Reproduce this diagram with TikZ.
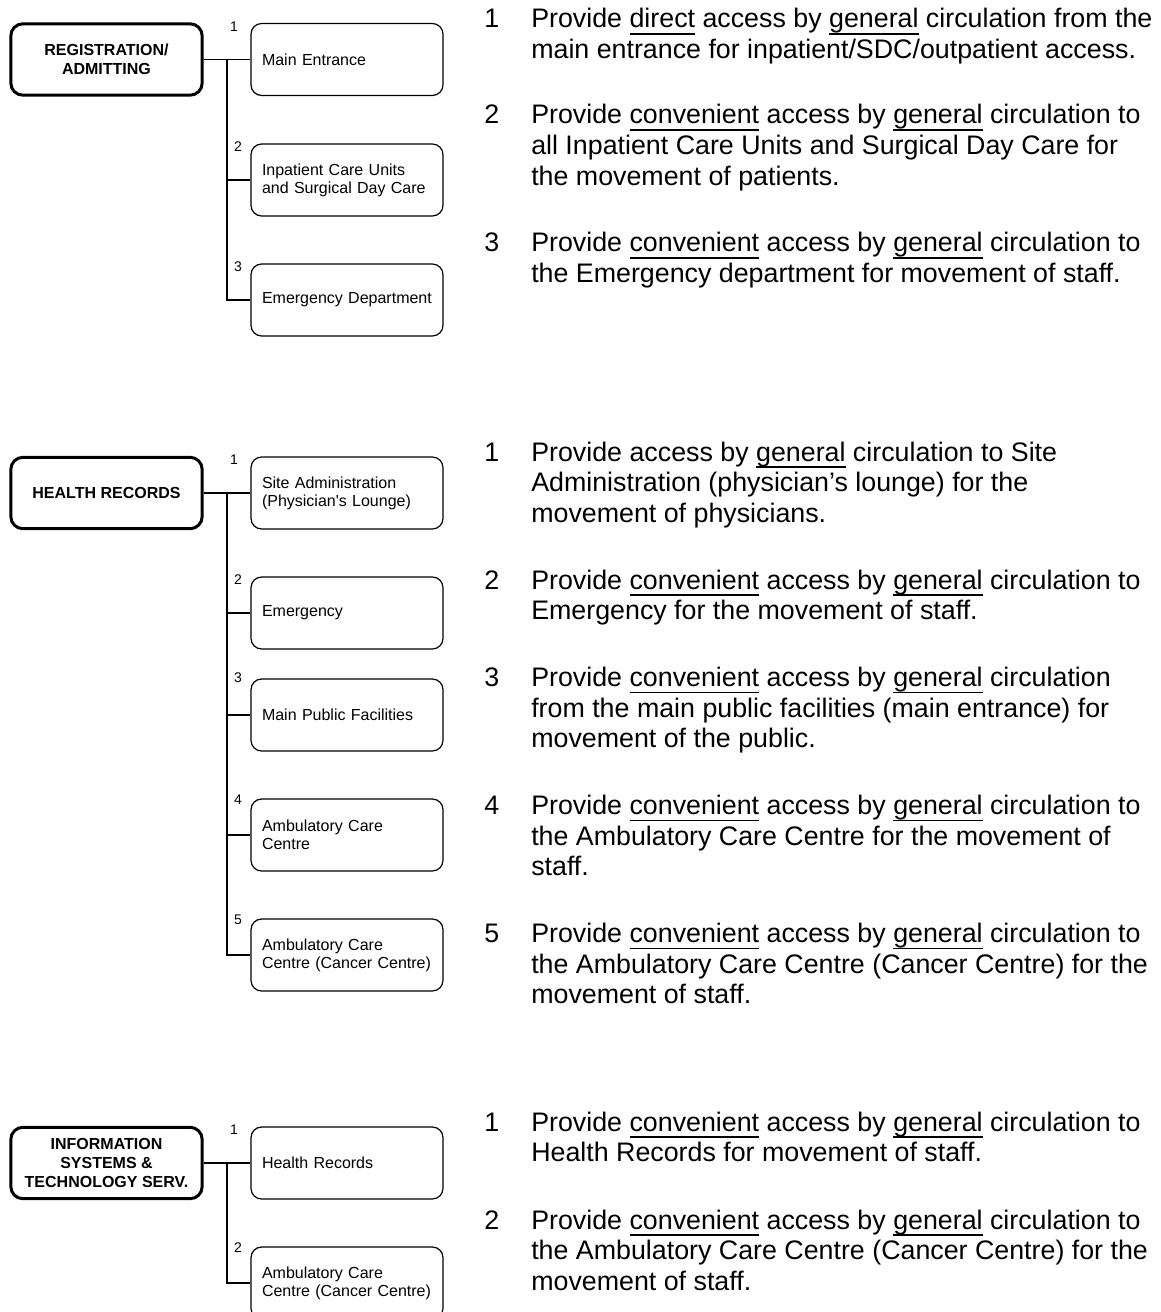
\documentclass[tikz,border=0pt]{standalone}
\usepackage{fontspec}
\newfontfamily\arialf{Liberation Sans}
\newcommand\ulw[1]{\setbox0\hbox{#1}\rlap{\rule[-5.1pt]{\wd0}{1.1pt}}\box0\relax}
\newcommand\rtxt[1]{\begin{tabular}[t]{@{}l@{}}#1\end{tabular}}
\tikzset{
  mainbox/.style={draw, line width=2.25pt, rounded corners=9pt,
    minimum width=143.5pt, minimum height=53.5pt, inner sep=0pt,
    align=center, font=\arialf\bfseries\fontsize{12pt}{13.9pt}\selectfont},
  subbox/.style={draw, line width=0.9pt, rounded corners=8pt,
    minimum height=54pt, text width=127.5pt, inner xsep=8.25pt, inner ysep=0pt,
    align=left, font=\arialf\fontsize{12pt}{13.5pt}\selectfont},
  numlbl/.style={inner sep=0pt, font=\arialf\fontsize{10.5pt}{12pt}\selectfont},
  itemnum/.style={anchor=base west, inner sep=0pt, font=\arialf\fontsize{20.1pt}{22.9pt}\selectfont},
  itemtxt/.style={anchor=base west, inner sep=0pt, font=\arialf\fontsize{20.1pt}{22.9pt}\selectfont},
  conn/.style={line width=0.9pt}
}
\begin{document}
\begin{tikzpicture}[x=0.75pt,y=-0.75pt]
\useasboundingbox (0,0) rectangle (1160,1312);
% ---------- Section 1 ----------
\node[mainbox] (m1) at (106.5,59.5) {REGISTRATION/\\ADMITTING};
\node[subbox] (s11) at (347,59.5) {Main Entrance};
\node[subbox] (s12) at (347,180) {Inpatient Care Units\\and Surgical Day Care};
\node[subbox] (s13) at (347,300) {Emergency Department};
\coordinate (j1) at (227,59.5);
\draw[conn] (m1.east) -- (j1) -- (s11.west);
\draw[conn] (j1) |- (s12.west);
\draw[conn] (j1) |- (s13.west);
\node[numlbl] (l11) at (234,27) {1};
\node[numlbl] (l12) at (238,147) {2};
\node[numlbl] (l13) at (238,267) {3};
\node[itemnum] (n11) at (484,28) {1};
\node[itemtxt] (t11) at (531,28) {\rtxt{Provide \ulw{direct} access by \ulw{general} circulation from the\\main entrance for inpatient/SDC/outpatient access.}};
\node[itemnum] (n12) at (484,124) {2};
\node[itemtxt] (t12) at (531,124) {\rtxt{Provide \ulw{convenient} access by \ulw{general} circulation to\\all Inpatient Care Units and Surgical Day Care for\\the movement of patients.}};
\node[itemnum] (n13) at (484,252) {3};
\node[itemtxt] (t13) at (531,252) {\rtxt{Provide \ulw{convenient} access by \ulw{general} circulation to\\the Emergency department for movement of staff.}};
% ---------- Section 2 ----------
\node[mainbox] (m2) at (106.5,493) {HEALTH RECORDS};
\node[subbox] (s21) at (347,493) {Site Administration\\(Physician's Lounge)};
\node[subbox] (s22) at (347,613) {Emergency};
\node[subbox] (s23) at (347,715) {Main Public Facilities};
\node[subbox] (s24) at (347,835) {Ambulatory Care\\Centre};
\node[subbox] (s25) at (347,955) {Ambulatory Care\\Centre (Cancer Centre)};
\coordinate (j2) at (227,493);
\draw[conn] (m2.east) -- (j2) -- (s21.west);
\draw[conn] (j2) |- (s22.west);
\draw[conn] (j2) |- (s23.west);
\draw[conn] (j2) |- (s24.west);
\draw[conn] (j2) |- (s25.west);
\node[numlbl] (l21) at (234,460) {1};
\node[numlbl] (l22) at (238,580) {2};
\node[numlbl] (l23) at (238,678) {3};
\node[numlbl] (l24) at (238,800) {4};
\node[numlbl] (l25) at (238,920) {5};
\node[itemnum] (n21) at (484,461) {1};
\node[itemtxt] (t21) at (531,461) {\rtxt{Provide access by \ulw{general} circulation to Site\\Administration (physician’s lounge) for the\\movement of physicians.}};
\node[itemnum] (n22) at (484,589) {2};
\node[itemtxt] (t22) at (531,589) {\rtxt{Provide \ulw{convenient} access by \ulw{general} circulation to\\Emergency for the movement of staff.}};
\node[itemnum] (n23) at (484,686.5) {3};
\node[itemtxt] (t23) at (531,686.5) {\rtxt{Provide \ulw{convenient} access by \ulw{general} circulation\\from the main public facilities (main entrance) for\\movement of the public.}};
\node[itemnum] (n24) at (484,814.5) {4};
\node[itemtxt] (t24) at (531,814.5) {\rtxt{Provide \ulw{convenient} access by \ulw{general} circulation to\\the Ambulatory Care Centre for the movement of\\staff.}};
\node[itemnum] (n25) at (484,942.5) {5};
\node[itemtxt] (t25) at (531,942.5) {\rtxt{Provide \ulw{convenient} access by \ulw{general} circulation to\\the Ambulatory Care Centre (Cancer Centre) for the\\movement of staff.}};
% ---------- Section 3 ----------
\node[mainbox] (m3) at (106.5,1163) {INFORMATION\\SYSTEMS \&\\TECHNOLOGY SERV.};
\node[subbox] (s31) at (347,1163) {Health Records};
\node[subbox] (s32) at (347,1283) {Ambulatory Care\\Centre (Cancer Centre)};
\coordinate (j3) at (227,1163);
\draw[conn] (m3.east) -- (j3) -- (s31.west);
\draw[conn] (j3) |- (s32.west);
\node[numlbl] (l31) at (234,1130) {1};
\node[numlbl] (l32) at (238,1248) {2};
\node[itemnum] (n31) at (484,1131) {1};
\node[itemtxt] (t31) at (531,1131) {\rtxt{Provide \ulw{convenient} access by \ulw{general} circulation to\\Health Records for movement of staff.}};
\node[itemnum] (n32) at (484,1229) {2};
\node[itemtxt] (t32) at (531,1229) {\rtxt{Provide \ulw{convenient} access by \ulw{general} circulation to\\the Ambulatory Care Centre (Cancer Centre) for the\\movement of staff.}};
\end{tikzpicture}
\end{document}
